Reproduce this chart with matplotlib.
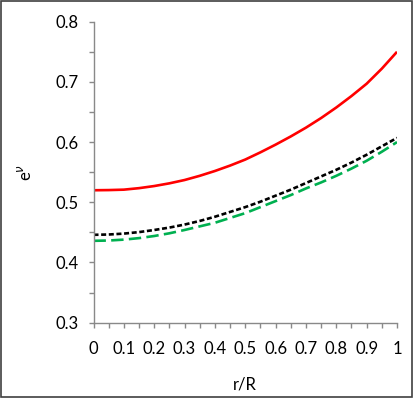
import matplotlib
matplotlib.use("Agg")
import matplotlib.pyplot as plt
from matplotlib.ticker import MultipleLocator
from matplotlib.patches import Rectangle

plt.rcParams['font.family'] = ['Lato', 'DejaVu Sans']

r = [0.0, 0.05, 0.1, 0.15, 0.2, 0.25, 0.3, 0.35, 0.4, 0.45, 0.5,
     0.55, 0.6, 0.65, 0.7, 0.75, 0.8, 0.85, 0.9, 0.95, 1.0]
red = [0.520, 0.5203, 0.521, 0.5235, 0.527, 0.5315, 0.537, 0.544, 0.552, 0.561, 0.571,
       0.583, 0.5958, 0.6094, 0.624, 0.640, 0.6575, 0.6765, 0.697, 0.722, 0.750]
black = [0.446, 0.4465, 0.448, 0.4505, 0.454, 0.458, 0.463, 0.469, 0.476, 0.484, 0.492,
         0.501, 0.511, 0.521, 0.532, 0.543, 0.554, 0.566, 0.579, 0.593, 0.607]
green = [0.436, 0.4365, 0.438, 0.4405, 0.444, 0.4485, 0.454, 0.460, 0.466, 0.474, 0.482,
         0.492, 0.502, 0.512, 0.523, 0.533, 0.544, 0.556, 0.569, 0.584, 0.600]
xticks = [0, 0.1, 0.2, 0.3, 0.4, 0.5, 0.6, 0.7, 0.8, 0.9, 1]
xticklabels = ['0', '0.1', '0.2', '0.3', '0.4', '0.5', '0.6', '0.7', '0.8', '0.9', '1']
yticks = [0.3, 0.4, 0.5, 0.6, 0.7, 0.8]

fig = plt.figure(figsize=(4.15, 3.99), dpi=100)
W, H = 415, 399
ax = fig.add_axes([93.5 / W, 1 - 322.7 / H, (397 - 93.5) / W, (322.7 - 21.7) / H])

ax.plot(r, red, color='#ff0000', lw=1.9, solid_capstyle='butt')
ax.plot(r, black, color='black', lw=1.9, dashes=(1.9, 1.0))
ax.plot(r, green, color='#00b050', lw=1.9, dashes=(4.7, 2.0))

ax.set_xlim(0, 1)
ax.set_ylim(0.3, 0.8)
ax.set_xticks(xticks)
ax.set_xticklabels(xticklabels)
ax.set_yticks(yticks)
ax.set_yticklabels(['%.1f' % v for v in yticks])
ax.xaxis.set_minor_locator(MultipleLocator(0.05))
ax.yaxis.set_minor_locator(MultipleLocator(0.05))

for s in ['top', 'right']:
    ax.spines[s].set_visible(False)
for s in ['left', 'bottom']:
    ax.spines[s].set_color('#898989')
    ax.spines[s].set_linewidth(1.0)
ax.tick_params(which='both', direction='out', color='#898989', width=1.0, length=3.5)
ax.tick_params(axis='y', which='both', labelsize=12, pad=7, labelcolor='black')
ax.tick_params(axis='x', which='both', labelsize=12, pad=10, labelcolor='black')

ax.set_xlabel('r/R', fontsize=12, labelpad=14)
ax.set_ylabel(r'e$^{\nu}$', fontsize=12, labelpad=16)

fig.patches.append(Rectangle((1 / W, (H - 396.5) / H), 410.5 / W, 395.5 / H,
                             transform=fig.transFigure, fill=False,
                             edgecolor='#404040', lw=1.2))

fig.savefig('out.png', dpi=100)
